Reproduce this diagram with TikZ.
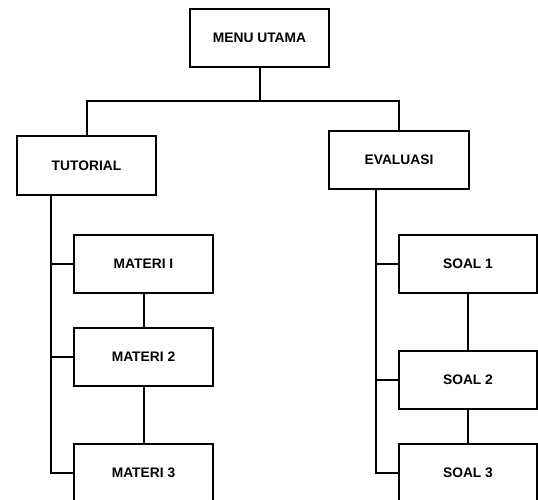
\documentclass[tikz,border=0pt]{standalone}
\usepackage{fontspec}
\setmainfont{Liberation Sans}
\usetikzlibrary{positioning, calc}

\tikzset{
  menubox/.style={draw, line width=2pt, minimum width=139pt, minimum height=58pt,
    inner sep=0pt, font=\fontsize{13.8}{16}\selectfont\bfseries},
  link/.style={line width=2pt}
}

\begin{document}
\begin{tikzpicture}[x=1pt, y=-1pt]

    \useasboundingbox (0,0) rectangle (538,500);

    % Top level
    \node[menubox] (menu) at (259.5,38) {MENU UTAMA};
    \node[menubox] (tutorial) at (86.5,165.5) {TUTORIAL};
    \node[menubox, minimum width=140pt] (evaluasi) at (399,160) {EVALUASI};

    % Tutorial branch
    \node[menubox] (materi1) at (143.5,264) {MATERI I};
    \node[menubox] (materi2) at (143.5,357) {MATERI 2};
    \node[menubox] (materi3) at (143.5,473) {MATERI 3};

    % Evaluasi branch
    \node[menubox, minimum width=138pt] (soal1) at (468,264) {SOAL 1};
    \node[menubox, minimum width=138pt] (soal2) at (468,380) {SOAL 2};
    \node[menubox, minimum width=138pt] (soal3) at (468,473) {SOAL 3};

    % Split under the main menu
    \coordinate (split) at (259.5,101);
    \draw[link] (menu.south) -- (split);
    \draw[link] (tutorial.north) |- (split) -| (evaluasi.north);

    % Left trunk
    \coordinate (ltop) at ($(tutorial.south west)!0.25!(tutorial.south east)$);
    \draw[link] (ltop) |- (materi3.west);
    \draw[link] (ltop |- materi1.west) -- (materi1.west);
    \draw[link] (ltop |- materi2.west) -- (materi2.west);
    \draw[link] (materi1.south) -- (materi2.north);
    \draw[link] (materi2.south) -- (materi3.north);

    % Right trunk
    \coordinate (rtop) at ($(evaluasi.south west)!0.336!(evaluasi.south east)$);
    \draw[link] (rtop) |- (soal3.west);
    \draw[link] (rtop |- soal1.west) -- (soal1.west);
    \draw[link] (rtop |- soal2.west) -- (soal2.west);
    \draw[link] (soal1.south) -- (soal2.north);
    \draw[link] (soal2.south) -- (soal3.north);

\end{tikzpicture}
\end{document}
